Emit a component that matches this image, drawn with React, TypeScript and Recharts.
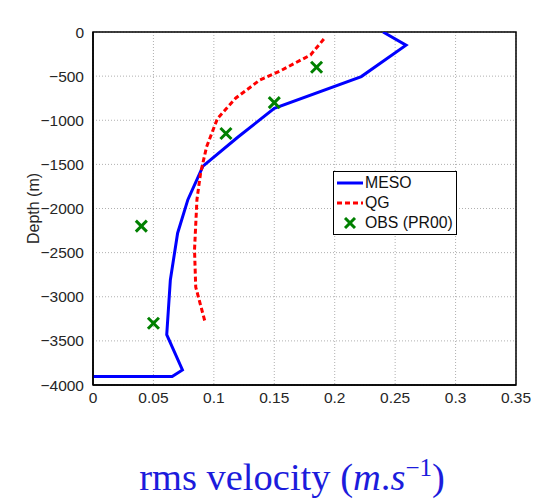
import React from 'react';
import {
  ComposedChart,
  Line,
  Scatter,
  XAxis,
  YAxis,
  CartesianGrid,
  ReferenceArea,
} from 'recharts';

// velocity (m/s) vs depth (m)
const mesoVel = [0.24, 0.259, 0.222, 0.15, 0.12, 0.091, 0.0785, 0.07, 0.064, 0.061, 0.074, 0.0655, 0];
const mesoDepth = [0, -150, -505, -865, -1190, -1520, -1900, -2280, -2810, -3430, -3830, -3905, -3905];

const qgVel = [0.191, 0.18, 0.155, 0.138, 0.118, 0.103, 0.094, 0.089, 0.086, 0.084, 0.085, 0.093];
const qgDepth = [-80, -260, -440, -545, -750, -980, -1300, -1600, -1900, -2470, -2890, -3300];

const obsVel = [0.185, 0.15, 0.11, 0.04, 0.05];
const obsDepth = [-400, -800, -1150, -2200, -3300];

const xTicks = [0, 0.05, 0.1, 0.15, 0.2, 0.25, 0.3, 0.35];
const yTicks = [0, -500, -1000, -1500, -2000, -2500, -3000, -3500, -4000];

const meso = mesoVel.map((v, i) => ({ v, d: mesoDepth[i] }));
const qg = qgVel.map((v, i) => ({ v, d: qgDepth[i] }));
const obs = obsVel.map((v, i) => ({ v, d: obsDepth[i] }));

const tickStyle = { fill: '#262626', fontSize: 15.5, fontFamily: 'Liberation Sans, Arial, sans-serif' };

const Cross = (props: any) => {
  const { cx, cy } = props;
  if (cx == null || cy == null) return null;
  const s = 5.5;
  return (
    <g stroke="#008000" strokeWidth={3}>
      <line x1={cx - s} y1={cy - s} x2={cx + s} y2={cy + s} />
      <line x1={cx - s} y1={cy + s} x2={cx + s} y2={cy - s} />
    </g>
  );
};

const LegendBox = () => (
  <div
    style={{
      position: 'absolute',
      left: 333,
      top: 171,
      border: '1.5px solid #000',
      background: '#fff',
      fontFamily: 'Liberation Sans, Arial, sans-serif',
      fontSize: 15.8,
      color: '#111',
      padding: '1px 3px 1px 3px',
      lineHeight: '20px',
      whiteSpace: 'nowrap',
    }}
  >
    <div style={{ display: 'flex', alignItems: 'center' }}>
      <svg width={27} height={10}><line x1={0} y1={5} x2={26} y2={5} stroke="#0000ff" strokeWidth={3} /></svg>
      <span style={{ marginLeft: 1 }}>MESO</span>
    </div>
    <div style={{ display: 'flex', alignItems: 'center' }}>
      <svg width={27} height={10}><line x1={0} y1={5} x2={26} y2={5} stroke="#ff0000" strokeWidth={3} strokeDasharray="5 3" /></svg>
      <span style={{ marginLeft: 1 }}>QG</span>
    </div>
    <div style={{ display: 'flex', alignItems: 'center' }}>
      <svg width={27} height={12}>
        <g stroke="#008000" strokeWidth={3}>
          <line x1={8} y1={1} x2={18} y2={11} />
          <line x1={8} y1={11} x2={18} y2={1} />
        </g>
      </svg>
      <span style={{ marginLeft: 1 }}>OBS (PR00)</span>
    </div>
  </div>
);

const fmtY = (v: number) => (v < 0 ? '\u2212' + Math.abs(v) : String(v));

export default function App() {
  return (
    <div style={{ position: 'absolute', left: 0, top: 0, width: 544, height: 502, background: '#fff' }}>
      <ComposedChart width={544} height={502} margin={{ top: 32, right: 28, bottom: 97, left: 0 }}>
        <CartesianGrid stroke="#b0b0b0" strokeDasharray="1 2" />
        <XAxis
          type="number"
          dataKey="v"
          domain={[0, 0.35]}
          ticks={xTicks}
          allowDataOverflow
          height={20}
          tick={tickStyle}
          tickLine={false}
          tickMargin={1}
          axisLine={{ stroke: '#000', strokeWidth: 1.5 }}
        />
        <YAxis
          type="number"
          dataKey="d"
          domain={[-4000, 0]}
          ticks={yTicks}
          allowDataOverflow
          width={93}
          tick={tickStyle}
          tickLine={false}
          tickMargin={3}
          tickFormatter={fmtY}
          axisLine={{ stroke: '#000', strokeWidth: 1.5 }}
          label={{
            value: 'Depth (m)',
            angle: -90,
            position: 'insideLeft',
            offset: 33,
            style: { ...tickStyle, fontSize: 16, textAnchor: 'middle' },
          }}
        />
        <ReferenceArea x1={0} x2={0.35} y1={-4000} y2={0} fill="none" stroke="#000" strokeWidth={1.5} />
        <Line
          data={meso}
          dataKey="d"
          type="linear"
          stroke="#0000ff"
          strokeWidth={3}
          dot={false}
          isAnimationActive={false}
        />
        <Line
          data={qg}
          dataKey="d"
          type="linear"
          stroke="#ff0000"
          strokeWidth={3}
          strokeDasharray="5 3"
          dot={false}
          isAnimationActive={false}
        />
        <Scatter data={obs} dataKey="d" shape={<Cross />} isAnimationActive={false} />
      </ComposedChart>
      <LegendBox />
      <div
        style={{
          position: 'absolute',
          left: 0,
          width: 584,
          top: 455,
          textAlign: 'center',
          fontFamily: 'Liberation Serif, Times New Roman, serif',
          fontSize: 38.5,
          color: '#1c1cdc',
          whiteSpace: 'nowrap',
        }}
      >
        rms velocity (<i>m</i>.<i>s</i>
        <sup style={{ fontSize: 25, verticalAlign: 'super', lineHeight: 0 }}>−1</sup>)
      </div>
    </div>
  );
}
